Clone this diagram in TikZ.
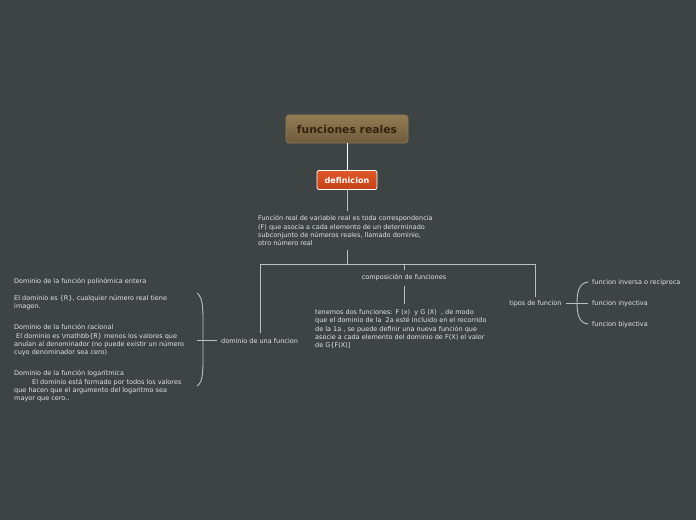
\documentclass[tikz,border=0pt]{standalone}
\usepackage{fontspec}
\setmainfont{DejaVu Sans}
\begin{document}
\begin{tikzpicture}[x=1pt,y=-1pt]
\definecolor{bg}{RGB}{62,67,68}
\definecolor{fg}{RGB}{228,228,228}
\definecolor{lc}{RGB}{190,192,192}
\definecolor{roottop}{RGB}{146,124,84}
\definecolor{rootbot}{RGB}{110,91,58}
\definecolor{roottext}{RGB}{52,36,14}
\definecolor{deftop}{RGB}{222,88,42}
\definecolor{defbot}{RGB}{196,64,22}
\tikzset{
  txt/.style={font=\fontsize{6.5}{8.2}\selectfont, text=fg, inner sep=0pt, align=left},
  conn/.style={draw=lc, line width=0.9pt},
  rootbox/.style={rounded corners=3pt, top color=roottop, bottom color=rootbot, draw=rootbot!80!white, line width=0.6pt,
    minimum width=122pt, minimum height=28pt, text=roottext, font=\fontsize{10.8}{12}\selectfont\bfseries},
  defbox/.style={rounded corners=2pt, top color=deftop, bottom color=defbot, draw=white, line width=0.8pt,
    minimum width=60pt, minimum height=19pt, text=white, font=\fontsize{8.1}{9}\selectfont\bfseries}
}
\fill[bg] (0,0) rectangle (696,520);
\useasboundingbox (0,0) rectangle (696,520);

\node[rootbox] (root) at (347,129) {funciones reales};
\node[defbox] (def) at (347,180) {definicion};
\node[txt, anchor=north west] (desc) at (258,215.5) {Función real de variable real es toda correspondencia\\(F) que asocia a cada elemento de un determinado\\subconjunto de números reales, llamado dominio,\\otro número real};

\draw[draw=white, line width=1pt] (root.south) -- (def.north);
\draw[conn] (def.south) -- (347,211);

\coordinate (hub) at (347,264);
\coordinate (hl) at (260,264);
\coordinate (hr) at (535,264);
\coordinate (hc) at (404,264);
\draw[conn] (347,250) -- (hub);
\draw[conn] (hl) -- (hr);

\node[txt, anchor=west] (dom) at (221,341) {dominio de una funcion};
\node[txt] (comp) at (404,278) {composición de funciones};
\node[txt] (tipos) at (535.5,304) {tipos de funcion};

\draw[conn] (hl) -- (260,333);
\draw[conn] (hc) -- (404,270);
\draw[conn] (hr) -- (535,297);

\node[txt, anchor=north west] (comptxt) at (315,309.5) {tenemos dos funciones: F (x) \ y G (X) \ , de modo\\que el dominio de la \ 2a esté incluido en el recorrido\\de la 1a , se puede definir una nueva función que\\asocie a cada elemento del dominio de F(X) el valor\\de G\{F(X)]};
\draw[conn] (404,286) -- (404,304);

% left children
\node[txt, anchor=north west] (d1) at (14,278.5) {Dominio de la función polinómica entera\\[8.2pt]El dominio es \{R\}, cualquier número real tiene\\imagen.};
\node[txt, anchor=north west] (d2) at (14,324.5) {Dominio de la función racional\\\hspace*{2pt}El dominio es \textbackslash mathbb\{R\} menos los valores que\\anulan al denominador (no puede existir un número\\cuyo denominador sea cero)};
\node[txt, anchor=north west] (d3) at (14,370.5) {Dominio de la función logarítmica\\\hspace*{18pt}El dominio está formado por todos los valores\\que hacen que el argumento del logaritmo sea\\mayor que cero..};
\draw[conn] (217,340) -- (197,340);
\draw[conn] (197,293) .. controls (204,298) and (203,312) .. (203,340) .. controls (203,368) and (204,382) .. (197,386);

% right children
\node[txt, anchor=west] (t1) at (592,282.5) {funcion inversa o reciproca};
\node[txt, anchor=west] (t2) at (592,304) {funcion inyectiva};
\node[txt, anchor=west] (t3) at (592,325) {funcion biyectiva};
\draw[conn] (566,303) -- (588,303);
\draw[conn] (588,282) .. controls (579,283) and (577,292) .. (577,303) .. controls (577,314) and (579,323) .. (588,324);
\end{tikzpicture}
\end{document}
